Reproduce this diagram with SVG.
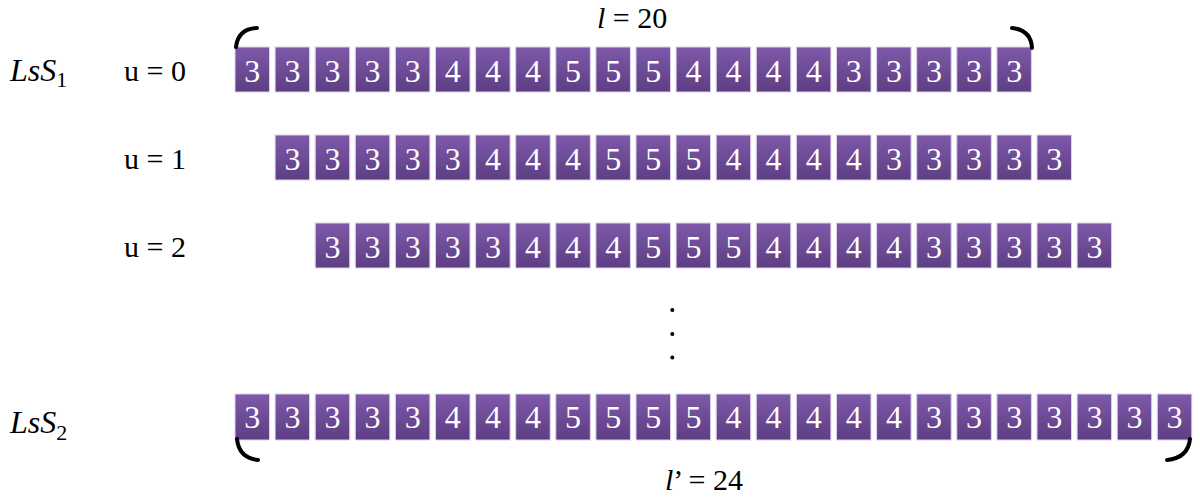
<svg xmlns="http://www.w3.org/2000/svg" width="1200" height="497" viewBox="0 0 1200 497">
<defs>
<linearGradient id="g" x1="0" y1="0" x2="0" y2="1">
<stop offset="0" stop-color="#7e59a9"/>
<stop offset="1" stop-color="#5d3e83"/>
</linearGradient>
</defs>
<style>
.b{fill:url(#g);stroke:#ddd2ea;stroke-width:1}
.d{font-family:"Liberation Serif",serif;font-size:32px;fill:#fff;text-anchor:middle}
.lab{font-family:"Liberation Serif",serif;font-size:32px;font-style:italic;fill:#000}
.u{font-family:"Liberation Serif",serif;font-size:30px;fill:#000}
.br{fill:none;stroke:#000;stroke-width:4;stroke-linecap:round}
</style>
<rect width="1200" height="497" fill="#fff"/>

<g id="labels">
<text class="lab" x="10" y="81">LsS<tspan font-size="22" font-style="normal" dy="6">1</tspan></text>
<text class="lab" x="10" y="433">LsS<tspan font-size="22" font-style="normal" dy="7">2</tspan></text>
<text class="u" x="124" y="81">u = 0</text>
<text class="u" x="124" y="169">u = 1</text>
<text class="u" x="124" y="257">u = 2</text>
<text class="u" x="597" y="28" font-size="31"><tspan font-style="italic">l</tspan> = 20</text>
<text class="u" x="665" y="490"><tspan font-style="italic">l</tspan>’ = 24</text>
</g>

<g id="row0">
<g id="r0b0"><rect class="b" x="235" y="47" width="34.5" height="45"/><text class="d" x="252.3" y="82">3</text></g>
<g id="r0b1"><rect class="b" x="275.1" y="47" width="34.5" height="45"/><text class="d" x="292.4" y="82">3</text></g>
<g id="r0b2"><rect class="b" x="315.2" y="47" width="34.5" height="45"/><text class="d" x="332.5" y="82">3</text></g>
<g id="r0b3"><rect class="b" x="355.3" y="47" width="34.5" height="45"/><text class="d" x="372.6" y="82">3</text></g>
<g id="r0b4"><rect class="b" x="395.4" y="47" width="34.5" height="45"/><text class="d" x="412.7" y="82">3</text></g>
<g id="r0b5"><rect class="b" x="435.5" y="47" width="34.5" height="45"/><text class="d" x="452.8" y="82">4</text></g>
<g id="r0b6"><rect class="b" x="475.6" y="47" width="34.5" height="45"/><text class="d" x="492.9" y="82">4</text></g>
<g id="r0b7"><rect class="b" x="515.7" y="47" width="34.5" height="45"/><text class="d" x="533" y="82">4</text></g>
<g id="r0b8"><rect class="b" x="555.8" y="47" width="34.5" height="45"/><text class="d" x="573.1" y="82">5</text></g>
<g id="r0b9"><rect class="b" x="595.9" y="47" width="34.5" height="45"/><text class="d" x="613.2" y="82">5</text></g>
<g id="r0b10"><rect class="b" x="636" y="47" width="34.5" height="45"/><text class="d" x="653.3" y="82">5</text></g>
<g id="r0b11"><rect class="b" x="676.1" y="47" width="34.5" height="45"/><text class="d" x="693.4" y="82">4</text></g>
<g id="r0b12"><rect class="b" x="716.2" y="47" width="34.5" height="45"/><text class="d" x="733.5" y="82">4</text></g>
<g id="r0b13"><rect class="b" x="756.3" y="47" width="34.5" height="45"/><text class="d" x="773.6" y="82">4</text></g>
<g id="r0b14"><rect class="b" x="796.4" y="47" width="34.5" height="45"/><text class="d" x="813.7" y="82">4</text></g>
<g id="r0b15"><rect class="b" x="836.5" y="47" width="34.5" height="45"/><text class="d" x="853.8" y="82">3</text></g>
<g id="r0b16"><rect class="b" x="876.6" y="47" width="34.5" height="45"/><text class="d" x="893.9" y="82">3</text></g>
<g id="r0b17"><rect class="b" x="916.7" y="47" width="34.5" height="45"/><text class="d" x="934" y="82">3</text></g>
<g id="r0b18"><rect class="b" x="956.8" y="47" width="34.5" height="45"/><text class="d" x="974.1" y="82">3</text></g>
<g id="r0b19"><rect class="b" x="996.9" y="47" width="34.5" height="45"/><text class="d" x="1014.2" y="82">3</text></g>
</g>

<g id="row1">
<g id="r1b0"><rect class="b" x="275.1" y="135" width="34.5" height="45"/><text class="d" x="292.4" y="170">3</text></g>
<g id="r1b1"><rect class="b" x="315.2" y="135" width="34.5" height="45"/><text class="d" x="332.5" y="170">3</text></g>
<g id="r1b2"><rect class="b" x="355.3" y="135" width="34.5" height="45"/><text class="d" x="372.6" y="170">3</text></g>
<g id="r1b3"><rect class="b" x="395.4" y="135" width="34.5" height="45"/><text class="d" x="412.7" y="170">3</text></g>
<g id="r1b4"><rect class="b" x="435.5" y="135" width="34.5" height="45"/><text class="d" x="452.8" y="170">3</text></g>
<g id="r1b5"><rect class="b" x="475.6" y="135" width="34.5" height="45"/><text class="d" x="492.9" y="170">4</text></g>
<g id="r1b6"><rect class="b" x="515.7" y="135" width="34.5" height="45"/><text class="d" x="533" y="170">4</text></g>
<g id="r1b7"><rect class="b" x="555.8" y="135" width="34.5" height="45"/><text class="d" x="573.1" y="170">4</text></g>
<g id="r1b8"><rect class="b" x="595.9" y="135" width="34.5" height="45"/><text class="d" x="613.2" y="170">5</text></g>
<g id="r1b9"><rect class="b" x="636" y="135" width="34.5" height="45"/><text class="d" x="653.3" y="170">5</text></g>
<g id="r1b10"><rect class="b" x="676.1" y="135" width="34.5" height="45"/><text class="d" x="693.4" y="170">5</text></g>
<g id="r1b11"><rect class="b" x="716.2" y="135" width="34.5" height="45"/><text class="d" x="733.5" y="170">4</text></g>
<g id="r1b12"><rect class="b" x="756.3" y="135" width="34.5" height="45"/><text class="d" x="773.6" y="170">4</text></g>
<g id="r1b13"><rect class="b" x="796.4" y="135" width="34.5" height="45"/><text class="d" x="813.7" y="170">4</text></g>
<g id="r1b14"><rect class="b" x="836.5" y="135" width="34.5" height="45"/><text class="d" x="853.8" y="170">4</text></g>
<g id="r1b15"><rect class="b" x="876.6" y="135" width="34.5" height="45"/><text class="d" x="893.9" y="170">3</text></g>
<g id="r1b16"><rect class="b" x="916.7" y="135" width="34.5" height="45"/><text class="d" x="934" y="170">3</text></g>
<g id="r1b17"><rect class="b" x="956.8" y="135" width="34.5" height="45"/><text class="d" x="974.1" y="170">3</text></g>
<g id="r1b18"><rect class="b" x="996.9" y="135" width="34.5" height="45"/><text class="d" x="1014.2" y="170">3</text></g>
<g id="r1b19"><rect class="b" x="1037" y="135" width="34.5" height="45"/><text class="d" x="1054.3" y="170">3</text></g>
</g>

<g id="row2">
<g id="r2b0"><rect class="b" x="315.2" y="223" width="34.5" height="45"/><text class="d" x="332.5" y="258">3</text></g>
<g id="r2b1"><rect class="b" x="355.3" y="223" width="34.5" height="45"/><text class="d" x="372.6" y="258">3</text></g>
<g id="r2b2"><rect class="b" x="395.4" y="223" width="34.5" height="45"/><text class="d" x="412.7" y="258">3</text></g>
<g id="r2b3"><rect class="b" x="435.5" y="223" width="34.5" height="45"/><text class="d" x="452.8" y="258">3</text></g>
<g id="r2b4"><rect class="b" x="475.6" y="223" width="34.5" height="45"/><text class="d" x="492.9" y="258">3</text></g>
<g id="r2b5"><rect class="b" x="515.7" y="223" width="34.5" height="45"/><text class="d" x="533" y="258">4</text></g>
<g id="r2b6"><rect class="b" x="555.8" y="223" width="34.5" height="45"/><text class="d" x="573.1" y="258">4</text></g>
<g id="r2b7"><rect class="b" x="595.9" y="223" width="34.5" height="45"/><text class="d" x="613.2" y="258">4</text></g>
<g id="r2b8"><rect class="b" x="636" y="223" width="34.5" height="45"/><text class="d" x="653.3" y="258">5</text></g>
<g id="r2b9"><rect class="b" x="676.1" y="223" width="34.5" height="45"/><text class="d" x="693.4" y="258">5</text></g>
<g id="r2b10"><rect class="b" x="716.2" y="223" width="34.5" height="45"/><text class="d" x="733.5" y="258">5</text></g>
<g id="r2b11"><rect class="b" x="756.3" y="223" width="34.5" height="45"/><text class="d" x="773.6" y="258">4</text></g>
<g id="r2b12"><rect class="b" x="796.4" y="223" width="34.5" height="45"/><text class="d" x="813.7" y="258">4</text></g>
<g id="r2b13"><rect class="b" x="836.5" y="223" width="34.5" height="45"/><text class="d" x="853.8" y="258">4</text></g>
<g id="r2b14"><rect class="b" x="876.6" y="223" width="34.5" height="45"/><text class="d" x="893.9" y="258">4</text></g>
<g id="r2b15"><rect class="b" x="916.7" y="223" width="34.5" height="45"/><text class="d" x="934" y="258">3</text></g>
<g id="r2b16"><rect class="b" x="956.8" y="223" width="34.5" height="45"/><text class="d" x="974.1" y="258">3</text></g>
<g id="r2b17"><rect class="b" x="996.9" y="223" width="34.5" height="45"/><text class="d" x="1014.2" y="258">3</text></g>
<g id="r2b18"><rect class="b" x="1037" y="223" width="34.5" height="45"/><text class="d" x="1054.3" y="258">3</text></g>
<g id="r2b19"><rect class="b" x="1077.1" y="223" width="34.5" height="45"/><text class="d" x="1094.4" y="258">3</text></g>
</g>

<g id="row3">
<g id="r3b0"><rect class="b" x="235" y="394" width="34.5" height="46"/><text class="d" x="252.3" y="428">3</text></g>
<g id="r3b1"><rect class="b" x="275.1" y="394" width="34.5" height="46"/><text class="d" x="292.4" y="428">3</text></g>
<g id="r3b2"><rect class="b" x="315.2" y="394" width="34.5" height="46"/><text class="d" x="332.5" y="428">3</text></g>
<g id="r3b3"><rect class="b" x="355.3" y="394" width="34.5" height="46"/><text class="d" x="372.6" y="428">3</text></g>
<g id="r3b4"><rect class="b" x="395.4" y="394" width="34.5" height="46"/><text class="d" x="412.7" y="428">3</text></g>
<g id="r3b5"><rect class="b" x="435.5" y="394" width="34.5" height="46"/><text class="d" x="452.8" y="428">4</text></g>
<g id="r3b6"><rect class="b" x="475.6" y="394" width="34.5" height="46"/><text class="d" x="492.9" y="428">4</text></g>
<g id="r3b7"><rect class="b" x="515.7" y="394" width="34.5" height="46"/><text class="d" x="533" y="428">4</text></g>
<g id="r3b8"><rect class="b" x="555.8" y="394" width="34.5" height="46"/><text class="d" x="573.1" y="428">5</text></g>
<g id="r3b9"><rect class="b" x="595.9" y="394" width="34.5" height="46"/><text class="d" x="613.2" y="428">5</text></g>
<g id="r3b10"><rect class="b" x="636" y="394" width="34.5" height="46"/><text class="d" x="653.3" y="428">5</text></g>
<g id="r3b11"><rect class="b" x="676.1" y="394" width="34.5" height="46"/><text class="d" x="693.4" y="428">5</text></g>
<g id="r3b12"><rect class="b" x="716.2" y="394" width="34.5" height="46"/><text class="d" x="733.5" y="428">4</text></g>
<g id="r3b13"><rect class="b" x="756.3" y="394" width="34.5" height="46"/><text class="d" x="773.6" y="428">4</text></g>
<g id="r3b14"><rect class="b" x="796.4" y="394" width="34.5" height="46"/><text class="d" x="813.7" y="428">4</text></g>
<g id="r3b15"><rect class="b" x="836.5" y="394" width="34.5" height="46"/><text class="d" x="853.8" y="428">4</text></g>
<g id="r3b16"><rect class="b" x="876.6" y="394" width="34.5" height="46"/><text class="d" x="893.9" y="428">4</text></g>
<g id="r3b17"><rect class="b" x="916.7" y="394" width="34.5" height="46"/><text class="d" x="934" y="428">3</text></g>
<g id="r3b18"><rect class="b" x="956.8" y="394" width="34.5" height="46"/><text class="d" x="974.1" y="428">3</text></g>
<g id="r3b19"><rect class="b" x="996.9" y="394" width="34.5" height="46"/><text class="d" x="1014.2" y="428">3</text></g>
<g id="r3b20"><rect class="b" x="1037" y="394" width="34.5" height="46"/><text class="d" x="1054.3" y="428">3</text></g>
<g id="r3b21"><rect class="b" x="1077.1" y="394" width="34.5" height="46"/><text class="d" x="1094.4" y="428">3</text></g>
<g id="r3b22"><rect class="b" x="1117.2" y="394" width="34.5" height="46"/><text class="d" x="1134.5" y="428">3</text></g>
<g id="r3b23"><rect class="b" x="1157.3" y="394" width="34.5" height="46"/><text class="d" x="1174.6" y="428">3</text></g>
</g>

<g id="connectors">
<path class="br" d="M236,47 Q238,29 257,28"/>
<path class="br" d="M1012,28 Q1031,30 1032,48"/>
<path class="br" d="M237,439 Q239,458 258,460"/>
<path class="br" d="M1190,439 Q1188,458 1167,460"/>
<circle cx="672.3" cy="310" r="2" fill="#000"/>
<circle cx="672.3" cy="334" r="2" fill="#000"/>
<circle cx="672.3" cy="357.5" r="2" fill="#000"/>
</g>
</svg>
